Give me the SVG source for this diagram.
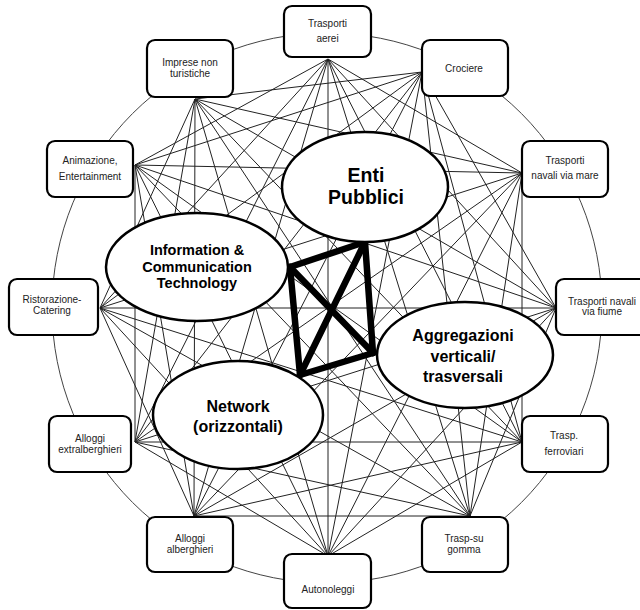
<svg xmlns="http://www.w3.org/2000/svg" width="640" height="610" viewBox="0 0 640 610">
<style>
.ring{fill:none;stroke:#444;stroke-width:1}
.c line{stroke:#222;stroke-width:1}
.thick line{stroke:#000;stroke-width:6.5;stroke-linecap:round}
.box rect{fill:#fff;stroke:#000;stroke-width:2.2}
.box text{font-family:"Liberation Sans",Arial,sans-serif;font-size:10px;fill:#222;text-anchor:middle}
.core ellipse{fill:#fff;stroke:#000;stroke-width:2.5}
.core text{font-family:"Liberation Sans",Arial,sans-serif;font-weight:bold;fill:#000;text-anchor:middle}
</style>
<rect width="640" height="610" fill="#fff"/>
<circle class="ring" cx="327" cy="308" r="275"/>
<g id="connectors" class="c">
<line x1="328" y1="59" x2="522" y2="173"/>
<line x1="328" y1="59" x2="556" y2="308"/>
<line x1="328" y1="59" x2="522" y2="442"/>
<line x1="328" y1="59" x2="470" y2="516"/>
<line x1="328" y1="59" x2="328" y2="556"/>
<line x1="328" y1="59" x2="194" y2="516"/>
<line x1="328" y1="59" x2="135" y2="442"/>
<line x1="328" y1="59" x2="100" y2="308"/>
<line x1="328" y1="59" x2="135" y2="165"/>
<line x1="422" y1="72" x2="556" y2="308"/>
<line x1="422" y1="72" x2="522" y2="442"/>
<line x1="422" y1="72" x2="470" y2="516"/>
<line x1="422" y1="72" x2="328" y2="556"/>
<line x1="422" y1="72" x2="194" y2="516"/>
<line x1="422" y1="72" x2="135" y2="442"/>
<line x1="422" y1="72" x2="100" y2="308"/>
<line x1="422" y1="72" x2="135" y2="165"/>
<line x1="422" y1="72" x2="195" y2="99"/>
<line x1="522" y1="173" x2="522" y2="442"/>
<line x1="522" y1="173" x2="470" y2="516"/>
<line x1="522" y1="173" x2="328" y2="556"/>
<line x1="522" y1="173" x2="194" y2="516"/>
<line x1="522" y1="173" x2="135" y2="442"/>
<line x1="522" y1="173" x2="100" y2="308"/>
<line x1="522" y1="173" x2="135" y2="165"/>
<line x1="522" y1="173" x2="195" y2="99"/>
<line x1="556" y1="308" x2="470" y2="516"/>
<line x1="556" y1="308" x2="328" y2="556"/>
<line x1="556" y1="308" x2="194" y2="516"/>
<line x1="556" y1="308" x2="135" y2="442"/>
<line x1="556" y1="308" x2="100" y2="308"/>
<line x1="556" y1="308" x2="135" y2="165"/>
<line x1="556" y1="308" x2="195" y2="99"/>
<line x1="522" y1="442" x2="328" y2="556"/>
<line x1="522" y1="442" x2="194" y2="516"/>
<line x1="522" y1="442" x2="135" y2="442"/>
<line x1="522" y1="442" x2="100" y2="308"/>
<line x1="522" y1="442" x2="135" y2="165"/>
<line x1="522" y1="442" x2="195" y2="99"/>
<line x1="470" y1="516" x2="194" y2="516"/>
<line x1="470" y1="516" x2="135" y2="442"/>
<line x1="470" y1="516" x2="100" y2="308"/>
<line x1="470" y1="516" x2="135" y2="165"/>
<line x1="470" y1="516" x2="195" y2="99"/>
<line x1="328" y1="556" x2="135" y2="442"/>
<line x1="328" y1="556" x2="100" y2="308"/>
<line x1="328" y1="556" x2="135" y2="165"/>
<line x1="328" y1="556" x2="195" y2="99"/>
<line x1="194" y1="516" x2="100" y2="308"/>
<line x1="194" y1="516" x2="135" y2="165"/>
<line x1="194" y1="516" x2="195" y2="99"/>
<line x1="135" y1="442" x2="135" y2="165"/>
<line x1="135" y1="442" x2="195" y2="99"/>
<line x1="100" y1="308" x2="195" y2="99"/>
</g>
<g id="core-links" class="thick">
<line x1="290" y1="267" x2="365" y2="242"/>
<line x1="365" y1="242" x2="373" y2="353"/>
<line x1="373" y1="353" x2="300" y2="375"/>
<line x1="300" y1="375" x2="290" y2="267"/>
<line x1="290" y1="267" x2="373" y2="353"/>
<line x1="365" y1="242" x2="300" y2="375"/>
</g>
<g id="enti" class="core">
<ellipse cx="365" cy="187" rx="83" ry="55"/>
<text x="366" y="182" font-size="19.5">Enti</text>
<text x="366" y="204" font-size="19.5">Pubblici</text>
</g>
<g id="ict" class="core">
<ellipse cx="197" cy="267" rx="91" ry="54"/>
<text x="197" y="255" font-size="14.5">Information &amp;</text>
<text x="197" y="272" font-size="14.5">Communication</text>
<text x="197" y="288" font-size="14.5">Technology</text>
</g>
<g id="network" class="core">
<ellipse cx="238" cy="415" rx="85" ry="54"/>
<text x="238" y="412" font-size="16">Network</text>
<text x="238" y="432" font-size="16">(orizzontali)</text>
</g>
<g id="aggregazioni" class="core">
<ellipse cx="465" cy="355" rx="88" ry="53"/>
<text x="463" y="341" font-size="16">Aggregazioni</text>
<text x="463" y="362" font-size="16">verticali/</text>
<text x="463" y="382" font-size="16">trasversali</text>
</g>
<g id="trasporti-aerei" class="box">
<rect x="284" y="6" width="87" height="51" rx="8"/>
<text x="327.5" y="27">Trasporti</text>
<text x="327.5" y="42">aerei</text>
</g>
<g id="crociere" class="box">
<rect x="422" y="40" width="86" height="56" rx="8"/>
<text x="464" y="72">Crociere</text>
</g>
<g id="navali-mare" class="box">
<rect x="522" y="141" width="86" height="56" rx="8"/>
<text x="565" y="164">Trasporti</text>
<text x="565" y="179">navali via mare</text>
</g>
<g id="navali-fiume" class="box">
<rect x="556" y="279" width="92" height="56" rx="8"/>
<text x="602" y="304.5">Trasporti navali</text>
<text x="602" y="315">via fiume</text>
</g>
<g id="ferroviari" class="box">
<rect x="522" y="416" width="86" height="56" rx="8"/>
<text x="564" y="439">Trasp.</text>
<text x="564" y="455">ferroviari</text>
</g>
<g id="gomma" class="box">
<rect x="422" y="517" width="86" height="55" rx="8"/>
<text x="464" y="542">Trasp-su</text>
<text x="464" y="553">gomma</text>
</g>
<g id="autonoleggi" class="box">
<rect x="284" y="554" width="87" height="54" rx="8"/>
<text x="328" y="593">Autonoleggi</text>
</g>
<g id="alberghieri" class="box">
<rect x="147" y="517" width="86" height="55" rx="8"/>
<text x="190" y="542">Alloggi</text>
<text x="190" y="553">alberghieri</text>
</g>
<g id="extralberghieri" class="box">
<rect x="49" y="416" width="82" height="56" rx="8"/>
<text x="90" y="442">Alloggi</text>
<text x="90" y="453">extralberghieri</text>
</g>
<g id="ristorazione" class="box">
<rect x="9" y="279" width="89" height="56" rx="8"/>
<text x="52" y="303">Ristorazione-</text>
<text x="52" y="314">Catering</text>
</g>
<g id="animazione" class="box">
<rect x="47" y="141" width="86" height="56" rx="8"/>
<text x="90" y="164">Animazione,</text>
<text x="90" y="180">Entertainment</text>
</g>
<g id="imprese" class="box">
<rect x="147" y="40" width="86" height="57" rx="8"/>
<text x="190" y="66">Imprese non</text>
<text x="190" y="77">turistiche</text>
</g>
</svg>
